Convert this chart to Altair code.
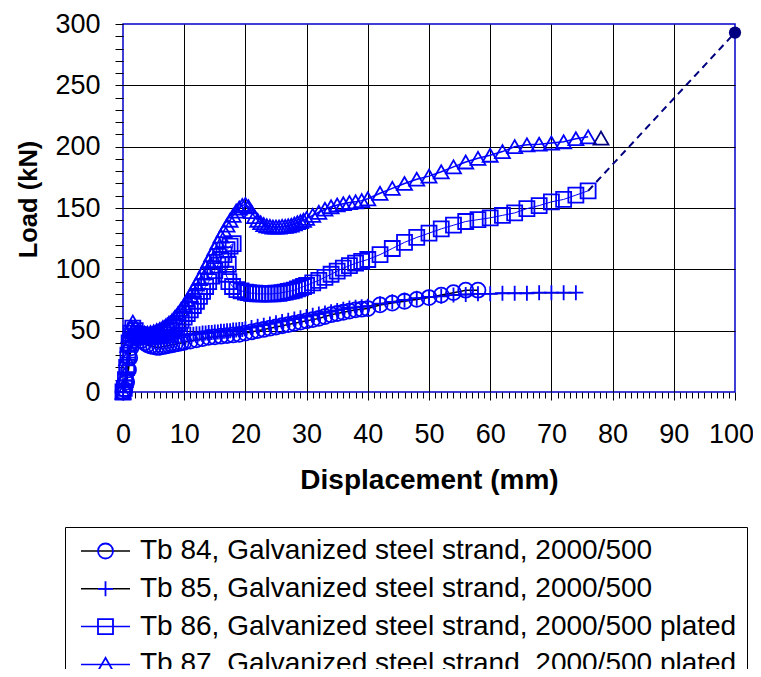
import altair as alt
import pandas as pd

SERIES = [
    "Tb 84, Galvanized steel strand, 2000/500",
    "Tb 85, Galvanized steel strand, 2000/500",
    "Tb 86, Galvanized steel strand, 2000/500 plated",
    "Tb 87, Galvanized steel strand, 2000/500 plated",
]
CODES = ["Tb 84", "Tb 85", "Tb 86", "Tb 87"]
LINE_COLORS = ["#000000", "#000000", "#0000ff", "#0000ff"]
LINE_WIDTHS = [1.5, 1.5, 1.0, 1.5]
SHAPES = ["circle", "M-1,0L1,0M0,-1L0,1", "square", "triangle-up"]

# (displacement mm, load kN)
tb84 = [(0, 0), (0.3, 2), (0.6, 8), (0.9, 18), (1.1, 28), (1.3, 36), (1.6, 42), (2.0, 45),
        (2.5, 44), (3.0, 42), (3.5, 40), (4.0, 38.5), (4.5, 37.5), (5.0, 37), (5.5, 36.5),
        (6.0, 36.5), (6.5, 37), (7.0, 37.5), (7.5, 38), (8.0, 38.5), (8.5, 39), (9.0, 39.5),
        (9.5, 40), (10, 40.5), (11, 41.5), (12, 42.5), (13, 43.5), (14, 44.5), (15, 45),
        (16, 45.5), (17, 46), (18, 46.5), (19, 47), (20, 48), (21, 49), (22, 50), (23, 51),
        (24, 52), (25, 53), (26, 54), (27, 55), (28, 56), (29, 57), (30, 58), (31, 59),
        (32, 60), (33, 61.5), (34, 63), (35, 64), (36, 65), (37, 66), (38, 67), (39, 67.5),
        (40, 68), (42, 71), (44, 72.5), (46, 74), (48, 75.5), (50, 77), (52, 79), (54, 81),
        (56, 83), (58, 83)]

tb85 = [(0, 0), (0.3, 5), (0.6, 15), (0.9, 28), (1.2, 38), (1.5, 44), (2.0, 46), (2.5, 46),
        (3.0, 45.5), (3.5, 45), (4.0, 45), (4.5, 45), (5.0, 45), (5.5, 45), (6.0, 45),
        (6.5, 45.5), (7.0, 45.5), (7.5, 45.5), (8.0, 46), (8.5, 46), (9.0, 46), (9.5, 46.5),
        (10, 46.5), (10.5, 47), (11, 47), (11.5, 47), (12, 47.5), (12.5, 47.5), (13, 48),
        (13.5, 48), (14, 48.5), (14.5, 48.5), (15, 49), (15.5, 49), (16, 49.5), (16.5, 49.5),
        (17, 50), (17.5, 50), (18, 50.5), (18.5, 50.5), (19, 51), (19.5, 51), (20, 51.5),
        (21, 52.5), (22, 53.5), (23, 54.5), (24, 55.5), (25, 56.5), (26, 57.5), (27, 58.5),
        (28, 59.5), (29, 60.5), (30, 61.5), (31, 62.5), (32, 63.5), (33, 64.5), (34, 65.5),
        (35, 66.5), (36, 67.5), (37, 68.5), (38, 69), (39, 69.5), (40, 70), (42, 72),
        (44, 73.5), (46, 75), (48, 76.5), (50, 77.5), (52, 78), (54, 79), (56, 79.5), (58, 80),
        (60, 80), (62, 80.5), (64, 80.5), (66, 80.5), (68, 81), (70, 81), (72, 81), (74, 81)]

tb86 = [(0, 0), (0.2, 3), (0.4, 10), (0.6, 20), (0.8, 30), (1.0, 40), (1.3, 48), (1.6, 52),
        (2.0, 50), (2.5, 47), (3.0, 46), (3.5, 45.5), (4.0, 45), (4.5, 45), (5.0, 45.5),
        (5.5, 46), (6.0, 47), (6.5, 48), (7.0, 49), (7.5, 50.5), (8.0, 52), (8.5, 54), (9.0, 56),
        (9.5, 58.5), (10, 61), (10.5, 64), (11, 67), (11.5, 70.5), (12, 74), (12.5, 78), (13, 82),
        (13.5, 86), (14, 90), (14.5, 94.5), (15, 99), (15.5, 103.5), (16, 108), (16.5, 112),
        (17, 116), (17.5, 119), (18, 121), (17.2, 104), (16.8, 96), (17.3, 90), (17.9, 86),
        (18.6, 83.5), (19.3, 82.5), (20, 81.5), (20.5, 81), (21, 80.5), (21.5, 80.5), (22, 80),
        (22.5, 80), (23, 80), (23.5, 80), (24, 80), (24.5, 80), (25, 80.5), (25.5, 80.5),
        (26, 81), (26.5, 81.5), (27, 82), (27.5, 82.5), (28, 83), (28.5, 84), (29, 85),
        (29.5, 86), (30, 87), (31, 89), (32, 91), (33, 93.5), (34, 96), (35, 98.5), (36, 101),
        (37, 103), (38, 105), (39, 106.5), (40, 108), (42, 112), (44, 117), (46, 122),
        (48, 126), (50, 129.5), (52, 133), (54, 136), (56, 139), (58, 140.5), (60, 142),
        (62, 144), (64, 146), (66, 149.5), (68, 152), (70, 155), (72, 157), (74, 160.5),
        (76, 164)]

tb87 = [(0, 0), (0.2, 5), (0.4, 15), (0.6, 27), (0.8, 38), (1.0, 46), (1.3, 53), (1.6, 57),
        (2.0, 53), (2.5, 50), (3.0, 48.5), (3.5, 48), (4.0, 48), (4.5, 48.5), (5.0, 49),
        (5.5, 50), (6.0, 51), (6.5, 52.5), (7.0, 54), (7.5, 56), (8.0, 58), (8.5, 61), (9.0, 64),
        (9.5, 67.5), (10, 71), (10.5, 75), (11, 79), (11.5, 83.5), (12, 88), (12.5, 92.5),
        (13, 97), (13.5, 102), (14, 107), (14.5, 112), (15, 117), (15.5, 122), (16, 127),
        (16.5, 131.5), (17, 136), (17.5, 140), (18, 144), (18.5, 147.5), (19, 150),
        (19.5, 152), (20, 153), (20.5, 151), (21, 147), (21.5, 143), (22, 140), (22.5, 138),
        (23, 136.5), (23.5, 135.5), (24, 135), (24.5, 134.5), (25, 134.5), (25.5, 134.5),
        (26, 135), (26.5, 135), (27, 135.5), (27.5, 136), (28, 137), (28.5, 138), (29, 139),
        (29.5, 140), (30, 141.5), (31, 144), (32, 146.5), (33, 149), (34, 151), (35, 152.5),
        (36, 153.5), (37, 154.5), (38, 155), (39, 156), (40, 157.5), (42, 162), (44, 166),
        (46, 170), (48, 173.5), (50, 176), (52, 179.5), (54, 183.5), (56, 187.5), (58, 190.5),
        (60, 193), (62, 196), (64, 200), (66, 201.5), (68, 202), (70, 203), (72, 204),
        (74, 206.5), (76, 208)]

# extrapolation to failure (dashed) and end markers
fail_x = [76, 100]
fail_y = [164, 293]
end_tri_x = [78.1]
end_tri_y = [207]
end_dot_x = [100]
end_dot_y = [293]

X_TICKS = list(range(0, 101))
Y_TICKS = list(range(0, 301, 10))

rows = []
for i, (name, pts) in enumerate(zip(SERIES, [tb84, tb85, tb86, tb87])):
    for j, (x, y) in enumerate(pts):
        rows.append({"series": name, "code": CODES[i], "x": x, "y": y, "idx": j,
                     "sw": LINE_WIDTHS[i]})
df = pd.DataFrame(rows)

FONT = "Liberation Sans"

x_axis = alt.Axis(
    values=X_TICKS,
    tickCount=len(X_TICKS),
    labelExpr="datum.value % 10 === 0 ? datum.label : ''",
    tickSize={"condition": {"test": "datum.value % 10 === 0", "value": 8}, "value": 6},
    tickColor="#000000",
    tickWidth=1,
    grid=True,
    gridColor="#000000",
    gridWidth=1,
    gridOpacity={"condition": {"test": "datum.value % 10 === 0 && datum.value > 0 && datum.value < 100",
                               "value": 1}, "value": 0},
    domain=False,
    labelFont=FONT,
    labelFontSize=27,
    labelColor="#000000",
    labelPadding=21,
    labelOffset={"condition": {"test": "datum.value === 100", "value": -4}, "value": 0},
    labelOverlap=False,
    labelFlush=False,
    title="Displacement (mm)",
    titleFont=FONT,
    titleFontSize=28,
    titleFontWeight="bold",
    titleColor="#000000",
    titlePadding=19,
)

y_axis = alt.Axis(
    values=Y_TICKS,
    tickCount=len(Y_TICKS),
    labelExpr="datum.value % 50 === 0 ? datum.label : ''",
    tickSize=8,
    tickColor="#000000",
    tickWidth=1,
    grid=True,
    gridColor="#000000",
    gridWidth=1,
    gridOpacity={"condition": {"test": "datum.value % 50 === 0 && datum.value > 0 && datum.value < 300",
                               "value": 1}, "value": 0},
    domain=False,
    labelFont=FONT,
    labelFontSize=27,
    labelColor="#000000",
    labelPadding=15,
    labelOverlap=False,
    labelFlush=False,
    title="Load (kN)",
    titleFont=FONT,
    titleFontSize=25.5,
    titleFontWeight="bold",
    titleColor="#000000",
    titlePadding=13,
    titleY=175,
)

legend_lines = alt.Legend(
    orient="none", legendX=-58, legendY=503, title=None,
    symbolType="M-3,0L3,0", symbolSize=267, symbolStrokeWidth=1.5,
    labelFont=FONT, labelFontSize=28, labelColor="#000000", labelLimit=1000,
    labelExpr="datum.label + '\u00a0\u00a0\u00a0\u00a0'",
    labelOffset=20.5, symbolOffset=16.5, padding=10, rowPadding=9.8,
    strokeColor="#000000",
)

legend_marks = alt.Legend(
    orient="none", legendX=-41.5, legendY=503, title=None,
    symbolSize=225, symbolStrokeWidth=1.8, symbolStrokeColor="#0000ff",
    symbolFillColor="transparent",
    labelFont=FONT, labelFontSize=28, labelOpacity=0, labelLimit=1000,
    labelExpr="'\u00a0'",
    labelOffset=9, padding=10, rowPadding=9.8,
)

xs = alt.Scale(domain=[0, 100], nice=False, zero=False)
ys = alt.Scale(domain=[0, 300], nice=False, zero=False)

lines = alt.Chart(df).mark_line().encode(
    x=alt.X("x:Q", scale=xs, axis=x_axis),
    y=alt.Y("y:Q", scale=ys, axis=y_axis),
    color=alt.Color("series:N", scale=alt.Scale(domain=SERIES, range=LINE_COLORS),
                    legend=legend_lines),
    strokeWidth=alt.StrokeWidth("sw:Q", scale=None, legend=None),
    order=alt.Order("idx:Q"),
)

points = alt.Chart(df).mark_point(filled=False, size=225, strokeWidth=1.8,
                                  color="#0000ff", opacity=1).encode(
    x="x:Q",
    y="y:Q",
    shape=alt.Shape("code:N", scale=alt.Scale(domain=CODES, range=SHAPES),
                    legend=legend_marks),
)

dash = alt.Chart(pd.DataFrame({"x": fail_x, "y": fail_y})).mark_line(
    color="#000080", strokeDash=[7, 5], strokeWidth=2).encode(x="x:Q", y="y:Q")

end_tri = alt.Chart(pd.DataFrame({"x": end_tri_x, "y": end_tri_y})).mark_point(
    shape="triangle-up", filled=False, size=225, strokeWidth=1.8, color="#000080",
    opacity=1).encode(x="x:Q", y="y:Q")

end_dot = alt.Chart(pd.DataFrame({"x": end_dot_x, "y": end_dot_y})).mark_circle(
    size=150, color="#000080", opacity=1).encode(x="x:Q", y="y:Q")

chart = alt.layer(lines, dash, points, end_tri, end_dot).properties(
    width=612,
    height=368,
    background="white",
    autosize=alt.AutoSizeParams(type="none"),
    padding={"left": 115, "top": 16, "right": 18, "bottom": 277},
).configure_view(
    stroke="#0000cc", strokeWidth=1.5
)

chart.save("out.html", embed_options={"renderer": "svg", "actions": False})
